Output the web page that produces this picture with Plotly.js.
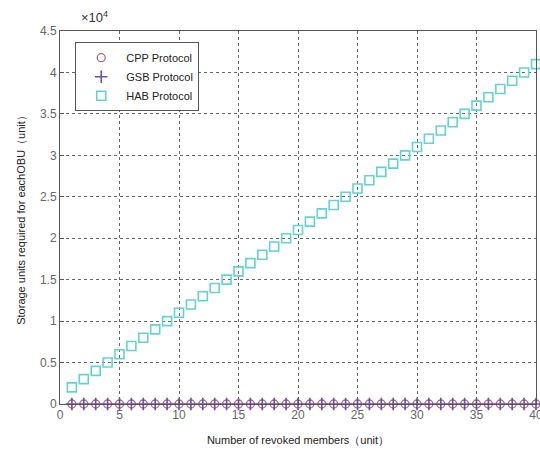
<!DOCTYPE html>
<html>
<head>
<meta charset="utf-8">
<script src="https://cdn.plot.ly/plotly-3.0.1.min.js"></script>
<style>html,body{margin:0;padding:0;background:#fff;}#chart{width:540px;height:450px;}</style>
</head>
<body>
<div id="chart"></div>
<script>
var revoked = [1,2,3,4,5,6,7,8,9,10,11,12,13,14,15,16,17,18,19,20,21,22,23,24,25,26,27,28,29,30,31,32,33,34,35,36,37,38,39,40];
var cppStorage = [0,0,0,0,0,0,0,0,0,0,0,0,0,0,0,0,0,0,0,0,0,0,0,0,0,0,0,0,0,0,0,0,0,0,0,0,0,0,0,0];
var gsbStorage = [0,0,0,0,0,0,0,0,0,0,0,0,0,0,0,0,0,0,0,0,0,0,0,0,0,0,0,0,0,0,0,0,0,0,0,0,0,0,0,0];
var habStorage = [2000,3000,4000,5000,6000,7000,8000,9000,10000,11000,12000,13000,14000,15000,16000,17000,18000,19000,20000,21000,22000,23000,24000,25000,26000,27000,28000,29000,30000,31000,32000,33000,34000,35000,36000,37000,38000,39000,40000,41000];
var seriesNames = ["CPP Protocol","GSB Protocol","HAB Protocol"];
var yTickVals = [0,5000,10000,15000,20000,25000,30000,35000,40000,45000];
var yTickText = ["0","0.5","1","1.5","2","2.5","3","3.5","4","4.5"];
var xTickVals = [0,5,10,15,20,25,30,35,40];

var traces = [
  {x: revoked, y: cppStorage, name: seriesNames[0], type: "scatter", mode: "markers", cliponaxis: false,
   marker: {symbol: "circle-open", size: 8, color: "#b06a78", line: {width: 1.3}}},
  {x: revoked, y: gsbStorage, name: seriesNames[1], type: "scatter", mode: "markers", cliponaxis: false,
   marker: {symbol: "cross-thin-open", size: 9, color: "#6a4fae", line: {width: 1.6, color: "#6a4fae"}}},
  {x: revoked, y: habStorage, name: seriesNames[2], type: "scatter", mode: "markers", cliponaxis: false,
   marker: {symbol: "square-open", size: 9, color: "#62d3cf", line: {width: 1.6}}}
];

var axisCommon = {
  showline: true, linecolor: "#555", linewidth: 1, mirror: true,
  ticks: "inside", ticklen: 4, tickcolor: "#555",
  showgrid: true, gridcolor: "#666", griddash: "dot", gridwidth: 1,
  zeroline: false, ticklabeloverflow: "allow",
  tickfont: {family: "Liberation Sans, Arial, sans-serif", size: 12, color: "#666"}
};

var layout = {
  width: 540, height: 450,
  margin: {l: 60, r: 4, t: 31, b: 46},
  paper_bgcolor: "#fff", plot_bgcolor: "#fff",
  showlegend: true,
  legend: {
    x: 0.032, y: 0.97, xanchor: "left", yanchor: "top",
    bgcolor: "#fff", bordercolor: "#555", borderwidth: 1,
    font: {family: "Liberation Sans, Arial, sans-serif", size: 11, color: "#222"},
    tracegroupgap: 0, itemwidth: 40
  },
  xaxis: Object.assign({}, axisCommon, {
    range: [0, 40], tickvals: xTickVals,
    title: {text: "Number of revoked members（unit）", standoff: 14,
      font: {family: "Liberation Sans, Arial, sans-serif", size: 11, color: "#222"}}
  }),
  yaxis: Object.assign({}, axisCommon, {
    range: [0, 45000], tickvals: yTickVals, ticktext: yTickText,
    title: {text: "Storage units required for eachOBU（unit）", standoff: 12,
      font: {family: "Liberation Sans, Arial, sans-serif", size: 11, color: "#222"}}
  }),
  annotations: [{
    xref: "paper", yref: "paper", x: 0.04, y: 1.0, xanchor: "left", yanchor: "bottom", yshift: 4,
    text: "×10<sup>4</sup>", showarrow: false,
    font: {family: "Liberation Sans, Arial, sans-serif", size: 13, color: "#333"}
  }]
};

Plotly.newPlot("chart", traces, layout, {displayModeBar: false, staticPlot: true});
</script>
</body>
</html>
